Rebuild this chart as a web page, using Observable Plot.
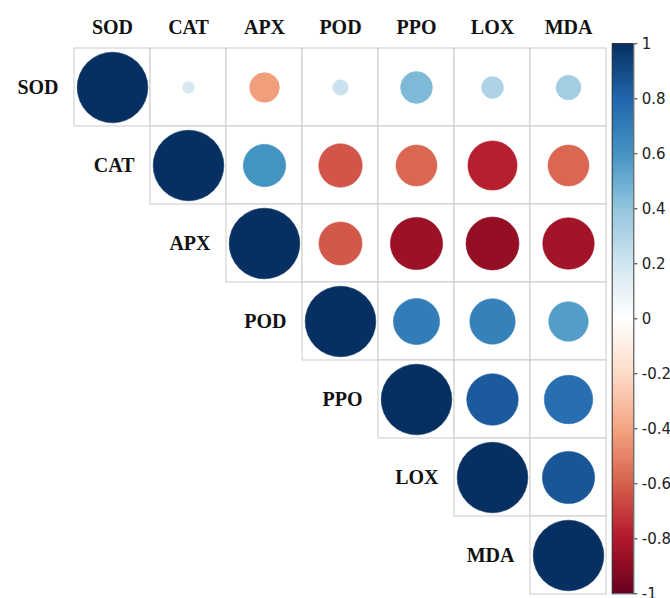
<!DOCTYPE html>
<html>
<head>
<meta charset="utf-8">
<script src="https://cdn.jsdelivr.net/npm/d3@7"></script>
<script src="https://cdn.jsdelivr.net/npm/@observablehq/plot@0.6"></script>
<style>
  html, body { margin: 0; padding: 0; background: #fff; }
  #wrap { position: relative; width: 670px; height: 598px; overflow: hidden; background: #fff; }
  #main, #bar { position: absolute; top: 0; }
  #main { left: 0; }
  #bar { left: 600px; }
</style>
</head>
<body>
<div id="wrap"><div id="main"></div><div id="bar"></div></div>
<script>
// variables (rows and columns of the correlation matrix)
const vars = ["SOD", "CAT", "APX", "POD", "PPO", "LOX", "MDA"];

// upper-triangle correlation values, one array per row (starting at the diagonal)
const rowSOD = [1, 0.17, -0.42, 0.22, 0.45, 0.31, 0.35];
const rowCAT = [1, 0.6, -0.63, -0.58, -0.78, -0.58];
const rowAPX = [1, -0.62, -0.86, -0.88, -0.84];
const rowPOD = [1, 0.7, 0.68, 0.56];
const rowPPO = [1, 0.84, 0.76];
const rowLOX = [1, 0.86];
const rowMDA = [1];

// colour bar tick labels
const colorbarTicks = [-1, -0.8, -0.6, -0.4, -0.2, 0, 0.2, 0.4, 0.6, 0.8, 1];

const rows = [rowSOD, rowCAT, rowAPX, rowPOD, rowPPO, rowLOX, rowMDA];
const cells = [];
rows.forEach((vals, i) => {
  vals.forEach((v, k) => {
    cells.push({row: vars[i], col: vars[i + k], value: v});
  });
});

const serif = "'Liberation Serif', 'Times New Roman', serif";
// RdBu palette, linearly interpolated between the 11 brewer stops (as corrplot does)
const colorScale = {
  type: "linear",
  domain: colorbarTicks,
  range: ["#67001F", "#B2182B", "#D6604D", "#F4A582", "#FDDBC7", "#FFFFFF",
          "#D1E5F0", "#92C5DE", "#4393C3", "#2166AC", "#053061"],
  interpolate: "rgb"
};

const main = Plot.plot({
  width: 610,
  height: 598,
  marginLeft: 72.5,
  marginRight: 3,
  marginTop: 47,
  marginBottom: 3,
  x: {type: "band", domain: vars, padding: 0, axis: null},
  y: {type: "band", domain: vars, padding: 0, axis: null},
  color: colorScale,
  r: {type: "linear", domain: [0, 0.6, 0.88, 1], range: [0, 21.2, 26.5, 35.3], clamp: true},
  style: {background: "white"},
  marks: [
    Plot.cell(cells, {x: "col", y: "row", fill: "white", stroke: "#cbcbcb", strokeWidth: 1}),
    Plot.dot(cells, {x: "col", y: "row", r: d => Math.abs(d.value), fill: "value", stroke: "value", strokeWidth: 0.6}),
    Plot.text(vars, {x: d => d, frameAnchor: "top", lineAnchor: "middle", dy: -20, text: d => d,
      fontSize: 20, fontWeight: "bold", fontFamily: serif, fill: "#111"}),
    Plot.text(vars, {x: d => d, y: d => d, text: d => d, textAnchor: "end", dx: -54,
      fontSize: 20, fontWeight: "bold", fontFamily: serif, fill: "#111"})
  ]
});
document.getElementById("main").appendChild(main);

// colour bar
const nSteps = 200;
const steps = d3.range(nSteps).map(i => -1 + 2 * i / nSteps);
const stepH = 2 / nSteps;
const bar = Plot.plot({
  width: 70,
  height: 598,
  marginLeft: 11.7,
  marginRight: 36.7,
  marginTop: 43.3,
  marginBottom: 4.7,
  y: {domain: [-1, 1]},
  color: colorScale,
  style: {background: "transparent", overflow: "visible"},
  marks: [
    Plot.rect(steps, {y1: d => d, y2: d => d + stepH, fill: d => d + stepH / 2, shapeRendering: "crispEdges"}),
    Plot.frame({stroke: "#333", strokeWidth: 1}),
    Plot.axisY({anchor: "right", ticks: colorbarTicks, tickSize: 3, tickPadding: 5,
      tickFormat: d => String(+d.toFixed(1)), fontSize: 15,
      fontFamily: "'DejaVu Sans', Arial, sans-serif", fill: "#222", stroke: "#222"})
  ]
});
document.getElementById("bar").appendChild(bar);
</script>
</body>
</html>
